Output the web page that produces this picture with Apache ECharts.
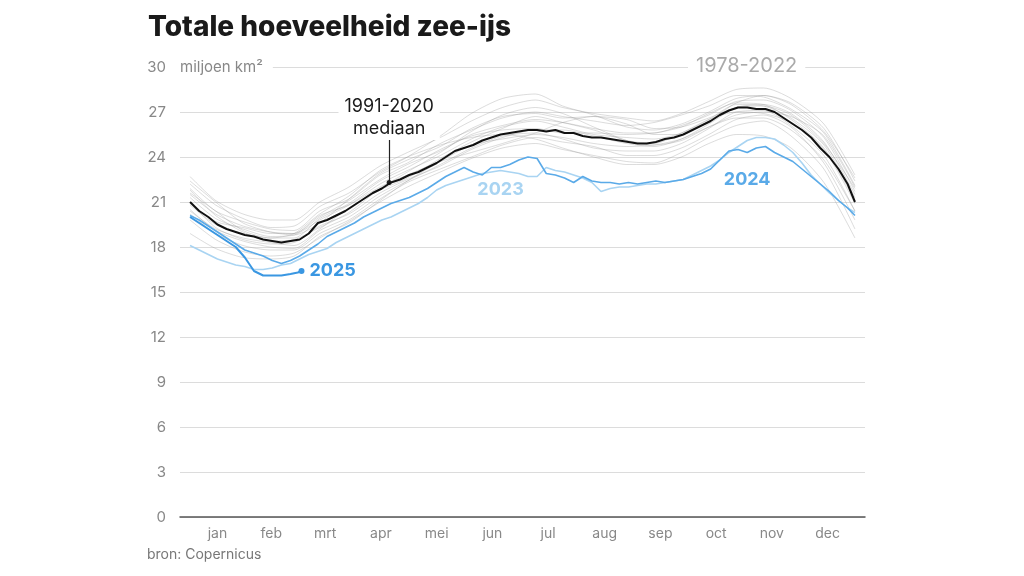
<!DOCTYPE html>
<html>
<head>
<meta charset="utf-8">
<script src="https://cdn.jsdelivr.net/npm/echarts@6/dist/echarts.min.js"></script>
<style>
html,body{margin:0;padding:0;background:#fff;}
#c{width:1024px;height:576px;}
</style>
</head>
<body>
<div id="c"></div>
<script>
// ---- data ----
const monthLabels = ['jan','feb','mrt','apr','mei','jun','jul','aug','sep','oct','nov','dec'];
const monthMidDays = [16, 45.5, 75, 105.5, 136, 166.5, 197, 228, 258.5, 289, 319.5, 350];
const yTicks = [0, 3, 6, 9, 12, 15, 18, 21, 24, 27, 30];

// sample days for detailed lines (every 5 days)
const detailDays = [1,6,11,16,21,26,31,36,41,46,51,56,61,66,71,76,81,86,91,96,101,106,111,116,121,126,131,136,141,146,151,156,161,166,171,176,181,186,191,196,201,206,211,216,221,226,231,236,241,246,251,256,261,266,271,276,281,286,291,296,301,306,311,316,321,326,331,336,341,346,351,356,361,365];

const median = [21.0,20.4,20.0,19.5,19.2,19.0,18.8,18.7,18.5,18.4,18.3,18.4,18.5,18.9,19.6,19.8,20.1,20.4,20.8,21.2,21.6,21.9,22.3,22.5,22.8,23.0,23.3,23.6,24.0,24.4,24.6,24.8,25.1,25.3,25.5,25.6,25.7,25.8,25.8,25.7,25.8,25.6,25.6,25.4,25.3,25.3,25.2,25.1,25.0,24.9,24.9,25.0,25.2,25.3,25.5,25.8,26.1,26.4,26.8,27.1,27.3,27.3,27.2,27.2,27.0,26.6,26.2,25.8,25.3,24.6,24.0,23.2,22.2,21.0];

const y2023 = [18.1,17.8,17.5,17.2,17.0,16.8,16.7,16.5,16.5,16.6,16.8,16.9,17.2,17.5,17.7,17.9,18.3,18.6,18.9,19.2,19.5,19.8,20.0,20.3,20.6,20.9,21.3,21.8,22.1,22.3,22.5,22.7,22.9,23.0,23.1,23.0,22.9,22.7,22.7,23.3,23.1,23.0,22.8,22.6,22.3,21.7,21.9,22.0,22.0,22.1,22.2,22.2,22.3,22.4,22.5,22.8,23.1,23.4,23.8,24.3,24.7,25.1,25.3,25.3,25.2,24.8,24.3,23.6,22.8,22.2,21.6,21.1,20.6,20.3];

const y2024 = [20.1,19.8,19.4,19.0,18.6,18.2,17.8,17.6,17.4,17.1,16.9,17.1,17.4,17.8,18.2,18.7,19.0,19.3,19.6,20.0,20.3,20.6,20.9,21.1,21.3,21.6,21.9,22.3,22.7,23.0,23.3,23.0,22.8,23.3,23.3,23.5,23.8,24.0,23.9,22.9,22.8,22.6,22.3,22.7,22.4,22.3,22.3,22.2,22.3,22.2,22.3,22.4,22.3,22.4,22.5,22.7,22.9,23.2,23.8,24.4,24.5,24.3,24.6,24.7,24.3,24.0,23.7,23.2,22.7,22.2,21.7,21.1,20.6,20.1];

const days2025 = [1,6,11,16,21,26,31,36,41,46,51,56,60,62];
const y2025 = [20.0,19.6,19.2,18.8,18.4,18.0,17.3,16.4,16.1,16.1,16.1,16.2,16.3,16.4];

// 1978-2022 years (estimated from the grey spaghetti)
const grayDays = [1,15,30,45,58,72,88,105,120,138,155,172,190,205,222,240,255,270,285,300,315,330,348,365];
const g01 = [22.7,21.1,20.2,19.8,19.8,21.0,22.0,23.4,24.3,25.3,26.4,27.3,27.8,27.3,26.9,26.6,26.4,26.9,27.7,28.5,28.6,27.9,26.2,22.8];
const g02 = [22.2,20.8,19.9,19.3,19.4,20.7,21.6,23.0,24.0,25.4,26.9,27.9,28.2,27.4,26.8,26.0,25.8,26.2,27.0,27.9,28.1,27.6,25.9,22.4];
const g03 = [21.9,20.4,19.7,19.2,19.1,20.4,21.2,22.8,23.6,24.9,25.8,26.6,27.0,26.7,26.4,26.1,26.3,26.8,27.4,28.1,28.0,27.2,25.6,22.1];
const g04 = [21.5,20.2,19.4,19.0,18.9,20.0,21.1,22.5,23.5,24.4,25.5,26.1,26.5,26.3,25.9,25.6,25.6,26.1,26.8,27.7,27.8,27.1,25.3,21.7];
const g05 = [21.3,19.9,19.2,18.7,18.8,19.8,20.8,22.2,23.1,24.1,25.2,26.0,26.4,26.0,25.5,25.3,25.2,25.6,26.5,27.5,27.4,26.6,24.8,21.3];
const g06 = [20.8,19.5,18.9,18.6,18.6,19.9,20.9,22.4,23.3,24.5,25.4,25.8,25.9,25.6,25.6,25.5,25.6,26.0,26.9,27.6,27.5,26.5,24.6,21.1];
const g07 = [21.0,19.3,18.5,18.2,18.3,19.4,20.2,21.6,22.5,23.4,24.5,25.3,25.8,25.8,25.4,24.9,24.7,25.2,26.2,27.3,27.5,26.9,25.0,21.5];
const g08 = [20.5,19.1,18.4,18.0,17.9,19.1,20.0,21.4,22.4,23.5,24.6,25.4,25.6,25.2,24.6,24.4,24.4,24.9,25.9,27.0,27.1,26.1,24.1,20.4];
const g09 = [20.2,18.9,18.1,17.8,17.8,18.9,19.8,21.2,22.3,23.2,24.0,24.8,25.3,25.0,24.7,24.1,24.1,24.6,25.5,26.5,26.8,26.0,23.6,19.8];
const g10 = [19.8,18.5,17.7,17.4,17.6,18.6,19.7,21.0,22.0,23.0,23.9,24.6,24.9,24.5,24.1,23.7,23.6,24.3,25.3,26.1,26.4,25.4,23.2,19.2];
const g11 = [21.6,20.4,19.1,18.6,18.9,20.2,21.4,23.1,24.0,24.8,25.3,25.5,25.2,24.6,24.0,23.5,23.5,24.0,24.9,25.5,25.4,24.6,22.3,18.6];
const g12 = [18.9,17.9,17.3,17.2,17.4,18.7,19.6,21.1,22.4,23.7,24.8,25.2,25.5,25.3,24.9,24.7,24.8,25.2,26.0,26.6,26.6,25.8,23.8,20.4];
const g13 = [21.8,20.1,19.0,18.4,18.5,19.3,20.3,21.9,23.0,24.3,25.7,26.8,27.3,26.9,26.0,25.1,24.8,25.1,26.0,26.8,27.0,26.7,25.4,22.0];
const g14 = [20.9,19.7,19.3,18.9,18.9,20.1,20.8,22.0,22.8,23.7,24.3,24.9,25.6,26.3,26.7,26.2,25.5,25.5,26.4,27.6,28.1,27.5,25.7,22.6];
const g15 = [22.4,21.0,19.6,19.0,18.8,19.6,21.2,22.9,23.8,24.7,25.9,26.7,26.9,26.6,26.7,26.5,25.9,26.0,26.6,27.3,27.4,26.8,24.9,21.9];
const g16 = [20.4,19.2,18.6,18.3,18.1,19.2,20.6,21.8,22.6,23.9,25.0,25.9,26.7,26.3,25.8,25.1,24.9,25.6,26.5,27.0,26.9,26.3,24.5,20.9];
const grayLines = [g01,g02,g03,g04,g05,g06,g07,g08,g09,g10,g11,g12,g13,g14,g15,g16];

// ---- build ----
const zip = (xs, ys) => ys.map((v, i) => [xs[i], v]);
const FONT = 'Inter, "Noto Sans", sans-serif';
const hiddenMark = { symbol: 'circle', symbolSize: 1, silent: true, itemStyle: { color: 'rgba(0,0,0,0)' } };

const series = [];
grayLines.forEach(g => {
  series.push({
    type: 'line', data: zip(grayDays, g), showSymbol: false, smooth: 0.25,
    lineStyle: { color: 'rgba(150,150,150,0.33)', width: 1 }, silent: true, z: 1
  });
});
series.push({
  name: '2023', type: 'line', data: zip(detailDays, y2023), showSymbol: false,
  lineStyle: { color: '#a9d4f2', width: 1.6 }, z: 3,
  markPoint: Object.assign({}, hiddenMark, {
    data: [{ coord: [171, 21.8] }],
    label: { show: true, position: 'inside', formatter: '2023', color: '#a9d4f2', fontSize: 18, fontWeight: 'bold', fontFamily: FONT }
  })
});
series.push({
  name: '2024', type: 'line', data: zip(detailDays, y2024), showSymbol: false,
  lineStyle: { color: '#5aaae8', width: 1.6 }, z: 4,
  markPoint: Object.assign({}, hiddenMark, {
    data: [{ coord: [306, 22.5] }],
    label: { show: true, position: 'inside', formatter: '2024', color: '#5aaae8', fontSize: 18, fontWeight: 'bold', fontFamily: FONT }
  })
});
series.push({
  name: '2025', type: 'line', data: zip(days2025, y2025), showSymbol: false,
  lineStyle: { color: '#3a97e2', width: 2 }, z: 5,
  endLabel: { show: true, formatter: '2025', color: '#3a97e2', fontSize: 18, fontWeight: 'bold', fontFamily: FONT, distance: 8 },
  markPoint: {
    symbol: 'circle', symbolSize: 6, silent: true,
    itemStyle: { color: '#3a97e2' },
    data: [{ coord: [days2025[days2025.length - 1], y2025[y2025.length - 1]] }],
    label: { show: false }
  }
});
series.push({
  name: 'mediaan', type: 'line', data: zip(detailDays, median), showSymbol: false,
  lineStyle: { color: '#111', width: 2 }, z: 6,
  markLine: {
    silent: true, symbol: ['circle', 'none'], symbolSize: 5,
    lineStyle: { color: '#222', width: 1.2, type: 'solid' },
    label: { show: false },
    data: [[{ coord: [110, 22.3] }, { coord: [110, 25.2] }]]
  },
  markPoint: Object.assign({}, hiddenMark, {
    data: [{ coord: [110, 26.6] }],
    label: {
      show: true, position: 'inside', formatter: '1991-2020\nmediaan', color: '#1a1a1a', fontSize: 18,
      lineHeight: 22, fontFamily: FONT, align: 'center', verticalAlign: 'middle',
      backgroundColor: '#fff', padding: [0, 6]
    }
  })
});

const chart = echarts.init(document.getElementById('c'), null, { renderer: 'canvas' });
chart.setOption({
  animation: false,
  backgroundColor: '#fff',
  grid: { left: 180, right: 159, top: 67, bottom: 59 },
  title: {
    text: 'Totale hoeveelheid zee-ijs', left: 143, top: 9,
    textStyle: { fontFamily: FONT, fontSize: 28, fontWeight: 800, color: '#1a1a1a' }
  },
  xAxis: {
    type: 'value', min: -4.5, max: 370.5,
    axisLine: { show: true, onZero: false, lineStyle: { color: '#555', width: 1.5 } },
    axisTick: { show: false },
    splitLine: { show: false },
    axisLabel: {
      customValues: monthMidDays,
      formatter: v => monthLabels[monthMidDays.indexOf(v)],
      color: '#888', fontSize: 14, fontFamily: FONT, margin: 10
    }
  },
  yAxis: {
    type: 'value', min: 0, max: 30, interval: 3,
    axisLine: { show: false }, axisTick: { show: false },
    splitLine: { lineStyle: { color: '#dcdcdc', width: 1.2 } },
    axisLabel: {
      customValues: yTicks,
      color: '#888', fontSize: 15, fontFamily: FONT, margin: 14
    }
  },
  graphic: [
    {
      type: 'text', left: 178, top: 58, z: 10,
      style: { text: 'miljoen km²', fill: '#888', fontSize: 15, fontFamily: FONT,
        backgroundColor: '#fff', padding: [2, 10, 2, 2] }
    },
    {
      type: 'text', left: 688, top: 55, z: 10,
      style: { text: '1978-2022', fill: '#aaa', fontSize: 20, fontFamily: FONT,
        backgroundColor: '#fff', padding: [1, 8] }
    },
    {
      type: 'text', left: 147, top: 548, z: 10,
      style: { text: 'bron: Copernicus', fill: '#777', fontSize: 14, fontFamily: FONT }
    }
  ],
  series: series
});
</script>
</body>
</html>
